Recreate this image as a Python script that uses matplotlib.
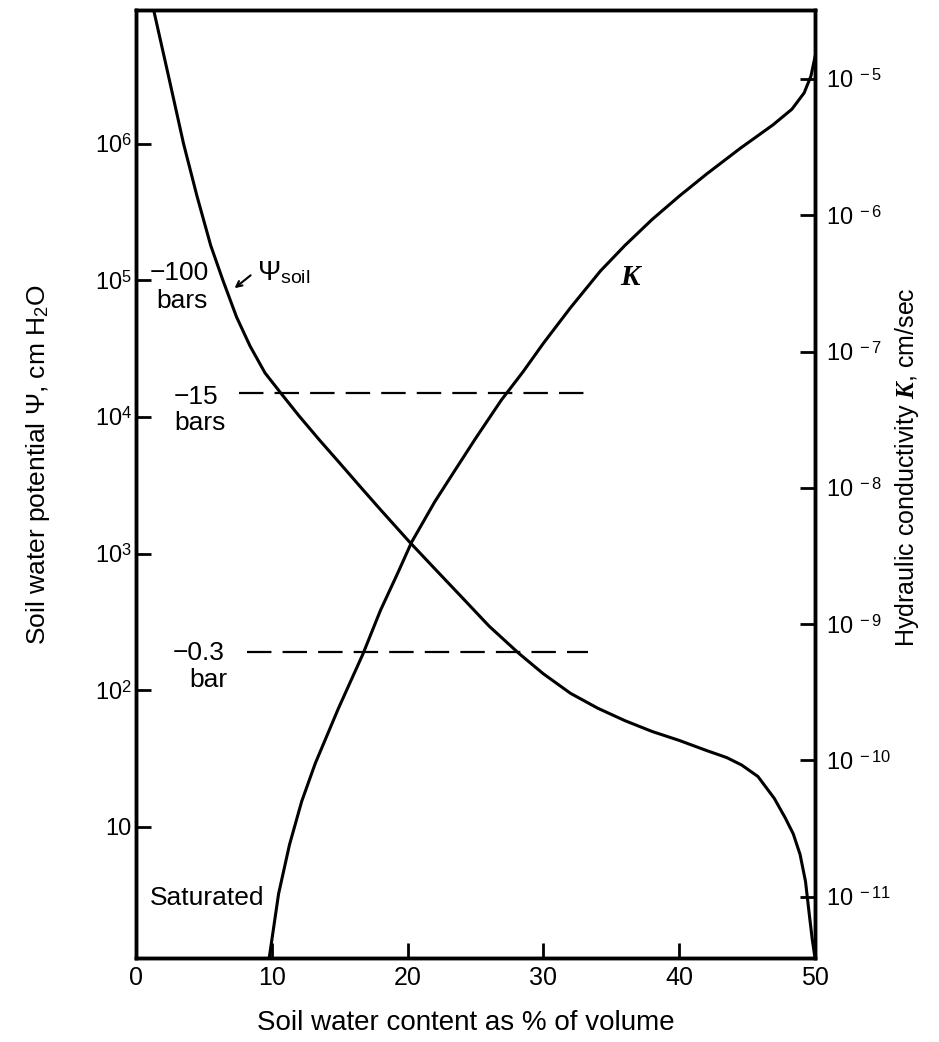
import matplotlib.pyplot as plt

plt.rcParams["font.family"] = ["Liberation Sans", "DejaVu Sans"]
plt.rcParams["mathtext.fontset"] = "custom"
plt.rcParams["mathtext.rm"] = "Liberation Sans"
plt.rcParams["mathtext.it"] = "Liberation Serif:italic:bold"

# soil water potential (left axis, cm H2O) vs water content (%)
psi_theta = [1.3, 2.5, 3.5, 4.5, 5.5, 6.4, 7.4, 8.4, 9.5, 10.7, 12.0, 13.5,
             15.0, 16.5, 18.0, 20.1, 22.0, 24.0, 26.0, 28.2, 30.0, 32.0, 34.0,
             36.0, 38.0, 40.0, 42.0, 43.5, 44.6, 45.8, 47.0, 47.8, 48.4, 48.9,
             49.3, 49.6, 49.8, 50.0]
psi_vals = [9.5e6, 2.8e6, 1.0e6, 4.1e5, 1.8e5, 1.0e5, 5.4e4, 3.3e4, 2.1e4,
            1.48e4, 1.02e4, 6.8e3, 4.6e3, 3.1e3, 2.1e3, 1.23e3, 776, 479,
            295, 186, 132, 95, 74, 60, 50, 43, 36.3, 32.2, 28.4, 23.4, 16.2,
            11.7, 8.9, 6.3, 4.0, 2.2, 1.5, 1.1]

# hydraulic conductivity (right axis, cm/sec) vs water content (%)
k_theta = [9.8, 10.5, 11.3, 12.2, 13.2, 14.9, 16.7, 18.0, 19.3, 20.3, 22.0,
           23.5, 25.0, 26.9, 28.5, 30.0, 32.0, 34.2, 36.0, 38.0, 40.0, 42.0,
           44.5, 46.9, 48.3, 49.2, 49.7, 50.0]
k_vals = [3.5e-12, 1.05e-11, 2.4e-11, 5.0e-11, 9.5e-11, 2.4e-10, 6.0e-10,
          1.26e-9, 2.4e-9, 4.0e-9, 7.9e-9, 1.35e-8, 2.3e-8, 4.4e-8, 7.1e-8,
          1.15e-7, 2.1e-7, 3.9e-7, 6.0e-7, 9.3e-7, 1.38e-6, 2.0e-6, 3.1e-6,
          4.6e-6, 6.0e-6, 7.9e-6, 1.05e-5, 1.45e-5]

# reference potentials (dashed lines)
ref_psi = [1.5e4, 190]
ref_start = [7.6, 8.2]
ref_end = 33.3

x_ticks = [0, 10, 20, 30, 40, 50]
left_ticks = [1e6, 1e5, 1e4, 1e3, 1e2, 10]
left_labels = ["$10^6$", "$10^5$", "$10^4$", "$10^3$", "$10^2$", "10"]
right_ticks = [1e-5, 1e-6, 1e-7, 1e-8, 1e-9, 1e-10, 1e-11]
right_labels = ["$10^{\\ -5}$", "$10^{\\ -6}$", "$10^{\\ -7}$", "$10^{\\ -8}$",
                "$10^{\\ -9}$", "$10^{\\ -10}$", "$10^{\\ -11}$"]

fig = plt.figure(figsize=(9.39, 10.42), dpi=100)
ax = fig.add_axes([136 / 939, 1 - 958 / 1042, 679 / 939, 948 / 1042])
ax2 = ax.twinx()

ax.plot(psi_theta, psi_vals, color="black", lw=2.2)
ax2.plot(k_theta, k_vals, color="black", lw=2.2)

for yv, xs in zip(ref_psi, ref_start):
    ax.hlines(yv, xs, ref_end, colors="black", lw=1.6, linestyles=(0, (11, 5)))

ax.set_xlim(0, 50)
ax.set_yscale("log")
ax.set_ylim(1.1, 9.5e6)
ax2.set_yscale("log")
ax2.set_ylim(10 ** -11.45, 10 ** -4.494)

ax.set_xticks(x_ticks)
ax.set_xticklabels([str(t) for t in x_ticks], fontsize=18)
ax.set_yticks(left_ticks)
ax.set_yticklabels(left_labels, fontsize=17)
ax.minorticks_off()
ax2.set_yticks(right_ticks)
ax2.set_yticklabels(right_labels, fontsize=17)
ax2.minorticks_off()

ax.tick_params(axis="both", direction="in", length=11, width=2, pad=6)
ax.tick_params(axis="y", pad=3)
ax2.tick_params(axis="y", direction="in", length=11, width=2, pad=8)

for a in (ax, ax2):
    for s in a.spines.values():
        s.set_linewidth(2.5)

ax.set_xlabel("Soil water content as % of volume", fontsize=20)
ax.xaxis.set_label_coords(0.486, -0.055)
ax.set_ylabel("Soil water potential $\\Psi$, cm H$_2$O", fontsize=19)
ax.yaxis.set_label_coords(-0.124, 0.52)
ax2.set_ylabel("Hydraulic conductivity $K$, cm/sec", fontsize=18)
ax2.yaxis.set_label_coords(1.115, 0.518)

# annotations
ax.text(3.2, 1.13e5, "\u2212100", fontsize=19, ha="center", va="center")
ax.text(3.4, 7.1e4, "bars", fontsize=19, ha="center", va="center")
ax.text(4.4, 1.4e4, "\u221215", fontsize=19, ha="center", va="center")
ax.text(4.7, 9.0e3, "bars", fontsize=19, ha="center", va="center")
ax.text(4.6, 186, "\u22120.3", fontsize=19, ha="center", va="center")
ax.text(5.3, 118, "bar", fontsize=19, ha="center", va="center")
ax.text(5.2, 3.0, "Saturated", fontsize=19, ha="center", va="center")
ax.text(8.9, 1.13e5, "$\\Psi_{\\rm soil}$", fontsize=20, ha="left", va="center")
ax.annotate("", xy=(7.1, 8.5e4), xytext=(8.6, 1.12e5),
            arrowprops=dict(arrowstyle="->", lw=1.5, color="black"))
ax2.text(36.5, 3.5e-7, "$K$", fontsize=21, ha="center", va="center")

plt.savefig("out.png", dpi=100)
